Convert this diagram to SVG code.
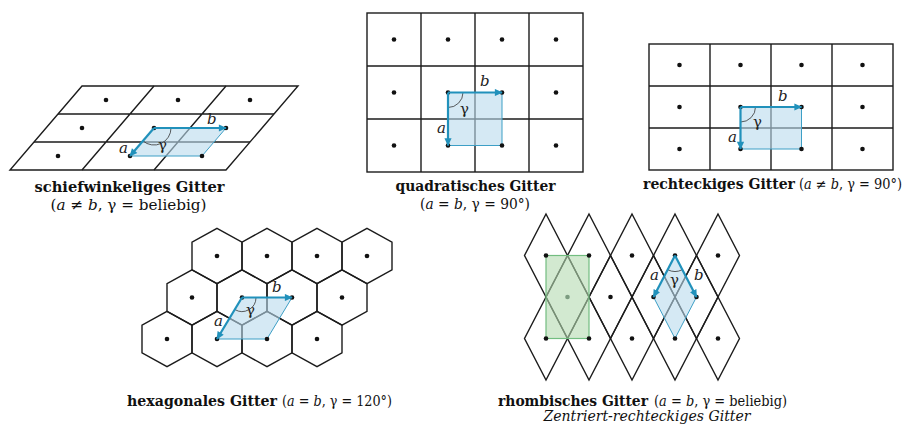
<svg xmlns="http://www.w3.org/2000/svg" width="904" height="425" viewBox="0 0 904 425">
<defs>
<style>
.grid{fill:none;stroke:#1c1c1c;stroke-width:1.4;stroke-linejoin:miter}
.dot{fill:#111}
.cell{fill:#b9daed;fill-opacity:0.6;stroke:#3d9fc6;stroke-width:1}
.green{fill:#b4dbb0;fill-opacity:0.6;stroke:#72bd80;stroke-width:1.2}
.vec{stroke:#2191bb;stroke-width:2.2;fill:none;marker-end:url(#ah)}
.arc{fill:none;stroke:#333;stroke-width:0.8}
.lbl{font-family:"DejaVu Serif","Liberation Serif",serif;font-size:15px;fill:#222}
.it{font-style:italic}
.title{font-family:"DejaVu Serif Condensed","DejaVu Serif","Liberation Serif",serif;font-size:15px;fill:#111}
.sm{font-size:14px}
.mid{text-anchor:middle}
.b{font-weight:bold}
</style>
<marker id="ah" viewBox="0 0 10 10" refX="9" refY="5" markerWidth="4" markerHeight="3.6" orient="auto" markerUnits="strokeWidth">
<path d="M0,0.5 L10,5 L0,9.5 z" fill="#2191bb"/>
</marker>
</defs>
<rect width="904" height="425" fill="#fff"/>

<!-- oblique lattice -->
<g id="oblique">
<polygon class="grid" points="82,86 298,86 226,170 10,170"/>
<path class="grid" d="M58,114H274 M34,142H250 M154,86L82,170 M226,86L154,170"/>
<polygon class="cell" points="154,128 226,128 202,156 130,156"/>
<path class="arc" d="M142.9,140.9 A17,17 0 0 0 171,128"/>
<g class="dot">
<circle cx="106" cy="100" r="2.3"/><circle cx="178" cy="100" r="2.3"/><circle cx="250" cy="100" r="2.3"/>
<circle cx="82" cy="128" r="2.3"/><circle cx="154" cy="128" r="2.3"/><circle cx="226" cy="128" r="2.3"/>
<circle cx="58" cy="156" r="2.3"/><circle cx="130" cy="156" r="2.3"/><circle cx="202" cy="156" r="2.3"/>
</g>
<text class="lbl it" x="207" y="124">b</text>
<text class="lbl it" x="119" y="153">a</text>
<text class="lbl" x="158" y="150">γ</text>
<text class="title b mid" x="129.5" y="192" textLength="190" lengthAdjust="spacingAndGlyphs">schiefwinkeliges Gitter</text>
<text class="title mid" x="128.5" y="210" textLength="156" lengthAdjust="spacingAndGlyphs">(<tspan class="it">a</tspan> ≠ <tspan class="it">b</tspan>, γ = beliebig)</text>
</g>

<!-- square lattice -->
<g id="square">
<rect class="grid" x="367" y="13" width="216" height="159"/>
<path class="grid" d="M421,13V172 M475,13V172 M529,13V172 M367,66H583 M367,119H583"/>
<rect class="cell" x="448" y="92.5" width="54" height="53"/>
<path class="arc" d="M448,107.5 A15,15 0 0 0 463,92.5"/>
<g class="dot">
<circle cx="394" cy="39.5" r="2.3"/><circle cx="448" cy="39.5" r="2.3"/><circle cx="502" cy="39.5" r="2.3"/><circle cx="556" cy="39.5" r="2.3"/>
<circle cx="394" cy="92.5" r="2.3"/><circle cx="448" cy="92.5" r="2.3"/><circle cx="502" cy="92.5" r="2.3"/><circle cx="556" cy="92.5" r="2.3"/>
<circle cx="394" cy="145.5" r="2.3"/><circle cx="448" cy="145.5" r="2.3"/><circle cx="502" cy="145.5" r="2.3"/><circle cx="556" cy="145.5" r="2.3"/>
</g>
<text class="lbl it" x="480" y="86">b</text>
<text class="lbl it" x="437" y="133">a</text>
<text class="lbl" x="460" y="114">γ</text>
<text class="title b mid" x="475.5" y="191" textLength="160" lengthAdjust="spacingAndGlyphs">quadratisches Gitter</text>
<text class="title mid" x="475" y="209" textLength="110" lengthAdjust="spacingAndGlyphs">(<tspan class="it">a</tspan> = <tspan class="it">b</tspan>, γ = 90°)</text>
</g>

<!-- rectangular lattice -->
<g id="rectangular">
<rect class="grid" x="649" y="44" width="244" height="126"/>
<path class="grid" d="M710,44V170 M771,44V170 M832,44V170 M649,86H893 M649,128H893"/>
<rect class="cell" x="740.5" y="107" width="61" height="42"/>
<path class="arc" d="M740.5,122 A15,15 0 0 0 755.5,107"/>
<g class="dot">
<circle cx="679.5" cy="65" r="2.3"/><circle cx="740.5" cy="65" r="2.3"/><circle cx="801.5" cy="65" r="2.3"/><circle cx="862.5" cy="65" r="2.3"/>
<circle cx="679.5" cy="107" r="2.3"/><circle cx="740.5" cy="107" r="2.3"/><circle cx="801.5" cy="107" r="2.3"/><circle cx="862.5" cy="107" r="2.3"/>
<circle cx="679.5" cy="149" r="2.3"/><circle cx="740.5" cy="149" r="2.3"/><circle cx="801.5" cy="149" r="2.3"/><circle cx="862.5" cy="149" r="2.3"/>
</g>
<text class="lbl it" x="778" y="101">b</text>
<text class="lbl it" x="728" y="142">a</text>
<text class="lbl" x="753" y="127">γ</text>
<text class="title b" x="643" y="189" textLength="152" lengthAdjust="spacingAndGlyphs">rechteckiges Gitter</text>
<text class="title sm" x="799" y="189" textLength="103" lengthAdjust="spacingAndGlyphs">(<tspan class="it">a</tspan> ≠ <tspan class="it">b</tspan>, γ = 90°)</text>
</g>

<!-- hexagonal lattice -->
<g id="hexagonal">
<g class="grid">
<polygon points="217,228.3 242,242.2 242,269.8 217,283.7 192,269.8 192,242.2"/>
<polygon points="267,228.3 292,242.2 292,269.8 267,283.7 242,269.8 242,242.2"/>
<polygon points="317,228.3 342,242.2 342,269.8 317,283.7 292,269.8 292,242.2"/>
<polygon points="367,228.3 392,242.2 392,269.8 367,283.7 342,269.8 342,242.2"/>
<polygon points="192,269.8 217,283.7 217,311.3 192,325.2 167,311.3 167,283.7"/>
<polygon points="242,269.8 267,283.7 267,311.3 242,325.2 217,311.3 217,283.7"/>
<polygon points="292,269.8 317,283.7 317,311.3 292,325.2 267,311.3 267,283.7"/>
<polygon points="342,269.8 367,283.7 367,311.3 342,325.2 317,311.3 317,283.7"/>
<polygon points="167,311.3 192,325.2 192,352.8 167,366.7 142,352.8 142,325.2"/>
<polygon points="217,311.3 242,325.2 242,352.8 217,366.7 192,352.8 192,325.2"/>
<polygon points="267,311.3 292,325.2 292,352.8 267,366.7 242,352.8 242,325.2"/>
<polygon points="317,311.3 342,325.2 342,352.8 317,366.7 292,352.8 292,325.2"/>
</g>
<polygon class="cell" points="242,297.5 292,297.5 267,339 217,339"/>
<path class="arc" d="M234.8,309.5 A14,14 0 0 0 256,297.5"/>
<g class="dot">
<circle cx="217" cy="256" r="2.3"/><circle cx="267" cy="256" r="2.3"/><circle cx="317" cy="256" r="2.3"/><circle cx="367" cy="256" r="2.3"/>
<circle cx="192" cy="297.5" r="2.3"/><circle cx="242" cy="297.5" r="2.3"/><circle cx="292" cy="297.5" r="2.3"/><circle cx="342" cy="297.5" r="2.3"/>
<circle cx="167" cy="339" r="2.3"/><circle cx="217" cy="339" r="2.3"/><circle cx="267" cy="339" r="2.3"/><circle cx="317" cy="339" r="2.3"/>
</g>
<text class="lbl it" x="272" y="292">b</text>
<text class="lbl it" x="214" y="326">a</text>
<text class="lbl" x="246" y="315">γ</text>
<text class="title b" x="127" y="406" textLength="150" lengthAdjust="spacingAndGlyphs">hexagonales Gitter</text>
<text class="title" x="282" y="406" textLength="110" lengthAdjust="spacingAndGlyphs">(<tspan class="it">a</tspan> = <tspan class="it">b</tspan>, γ = 120°)</text>
</g>

<!-- rhombic lattice -->
<g id="rhombic">
<g class="grid">
<polygon points="546,214 567.5,255.5 546,297 524.5,255.5"/>
<polygon points="589,214 610.5,255.5 589,297 567.5,255.5"/>
<polygon points="632,214 653.5,255.5 632,297 610.5,255.5"/>
<polygon points="675,214 696.5,255.5 675,297 653.5,255.5"/>
<polygon points="718,214 739.5,255.5 718,297 696.5,255.5"/>
<polygon points="567.5,255.5 589,297 567.5,338.5 546,297"/>
<polygon points="610.5,255.5 632,297 610.5,338.5 589,297"/>
<polygon points="653.5,255.5 675,297 653.5,338.5 632,297"/>
<polygon points="696.5,255.5 718,297 696.5,338.5 675,297"/>
<polygon points="546,297 567.5,338.5 546,380 524.5,338.5"/>
<polygon points="589,297 610.5,338.5 589,380 567.5,338.5"/>
<polygon points="632,297 653.5,338.5 632,380 610.5,338.5"/>
<polygon points="675,297 696.5,338.5 675,380 653.5,338.5"/>
<polygon points="718,297 739.5,338.5 718,380 696.5,338.5"/>
</g>
<rect class="green" x="546" y="255.5" width="43" height="83"/>
<polygon class="cell" points="675,255.5 696.5,297 675,338.5 653.5,297"/>
<path class="arc" d="M667.7,269.7 A16,16 0 0 0 682.3,269.7"/>
<g class="dot">
<circle cx="546" cy="255.5" r="2.3"/><circle cx="589" cy="255.5" r="2.3"/><circle cx="632" cy="255.5" r="2.3"/><circle cx="675" cy="255.5" r="2.3"/><circle cx="718" cy="255.5" r="2.3"/>
<circle cx="567.5" cy="297" r="2.3" fill="#7c9c80"/><circle cx="610.5" cy="297" r="2.3"/><circle cx="653.5" cy="297" r="2.3"/><circle cx="696.5" cy="297" r="2.3"/>
<circle cx="546" cy="338.5" r="2.3"/><circle cx="589" cy="338.5" r="2.3"/><circle cx="632" cy="338.5" r="2.3"/><circle cx="675" cy="338.5" r="2.3"/><circle cx="718" cy="338.5" r="2.3"/>
</g>
<text class="lbl it" x="650" y="280">a</text>
<text class="lbl it" x="694" y="280">b</text>
<text class="lbl" x="670" y="285">γ</text>
<text class="title b" transform="translate(498,406) scale(0.86,1)" x="0" y="0" textLength="174.4" lengthAdjust="spacingAndGlyphs">rhombisches Gitter</text>
<text class="title sm" transform="translate(654,406) scale(0.92,1)" x="0" y="0" textLength="144.6" lengthAdjust="spacingAndGlyphs">(<tspan class="it">a</tspan> = <tspan class="it">b</tspan>, γ = beliebig)</text>
<text class="title it mid" x="647" y="421" textLength="207" lengthAdjust="spacingAndGlyphs">Zentriert-rechteckiges Gitter</text>
</g>

<!-- lattice vectors -->
<g id="connectors">
<line class="vec" x1="154" y1="128" x2="226" y2="128"/>
<line class="vec" x1="154" y1="128" x2="130" y2="156"/>
<line class="vec" x1="448" y1="92.5" x2="502" y2="92.5"/>
<line class="vec" x1="448" y1="92.5" x2="448" y2="145.5"/>
<line class="vec" x1="740.5" y1="107" x2="801.5" y2="107"/>
<line class="vec" x1="740.5" y1="107" x2="740.5" y2="149"/>
<line class="vec" x1="242" y1="297.5" x2="292" y2="297.5"/>
<line class="vec" x1="242" y1="297.5" x2="217" y2="339"/>
<line class="vec" x1="675" y1="255.5" x2="653.5" y2="297"/>
<line class="vec" x1="675" y1="255.5" x2="696.5" y2="297"/>
</g>
</svg>
